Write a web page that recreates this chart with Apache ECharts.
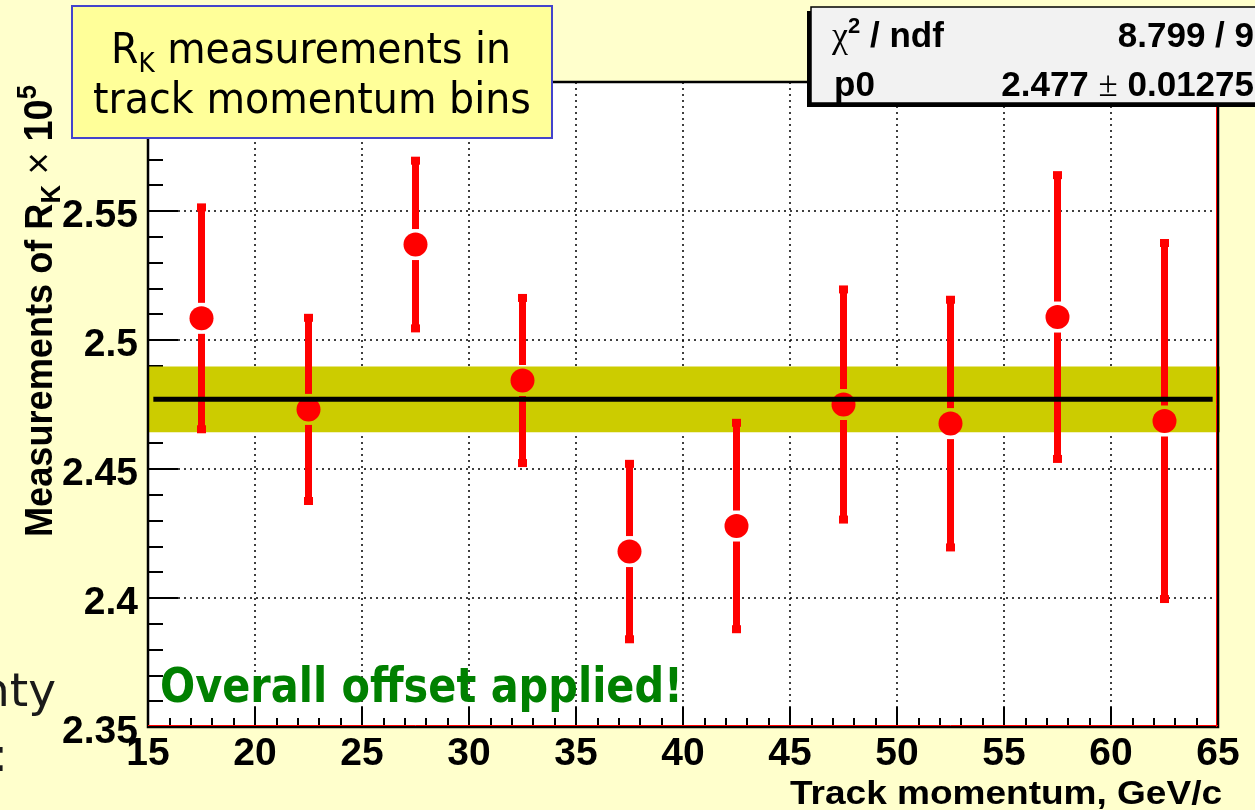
<!DOCTYPE html>
<html>
<head>
<meta charset="utf-8">
<script src="https://cdn.jsdelivr.net/npm/echarts@6/dist/echarts.min.js"></script>
<style>
  html, body { margin: 0; padding: 0; background: #ffffcc; }
  #chart { width: 1255px; height: 810px; }
</style>
</head>
<body>
<div id="chart"></div>
<script>
// R_K measurements per track momentum bin (x = bin centre, GeV/c)
const momentumBins = [17.5, 22.5, 27.5, 32.5, 37.5, 42.5, 47.5, 52.5, 57.5, 62.5];
const rkValues     = [2.5084, 2.4731, 2.5370, 2.4843, 2.4180, 2.4279, 2.4750, 2.4676, 2.5089, 2.4686];
const rkErrors     = [0.0430, 0.0355, 0.0325, 0.0320, 0.0340, 0.0400, 0.0446, 0.0480, 0.0550, 0.0690];

// Constant fit (pol0) result
const fitValue = 2.477;
const fitError = 0.01275;
const fitRange = [15.25, 64.75];
const chi2 = '8.799';
const ndf = '9';

// Axis ranges / ticks
const xRange = [15, 65];
const xStep = 5;
const yRange = [2.35, 2.6];
const yStep = 0.05;

const GRID = { left: 148, top: 82, width: 1070, height: 645 };

const chart = echarts.init(document.getElementById('chart'), null, { renderer: 'canvas' });

// ---- text helpers: lay out mixed-size text pieces on a common baseline ----
const measureCtx = document.createElement('canvas').getContext('2d');
function fontOf(p) { return (p.weight || 'normal') + ' ' + p.size + 'px ' + p.family; }
function textRun(pieces, opt) {
  const z = opt.z || 100;
  const children = [];
  let cx = 0;
  pieces.forEach(function (p) {
    measureCtx.font = fontOf(p);
    measureCtx.textBaseline = 'middle';
    const w = measureCtx.measureText(p.text).width;
    const below = measureCtx.measureText('H').actualBoundingBoxDescent;
    children.push({
      type: 'text', x: cx, y: (p.dy || 0) - below, silent: true, z: z,
      style: {
        text: p.text, fontSize: p.size, fontWeight: p.weight || 'normal',
        fontFamily: p.family, fill: p.color || opt.color || '#000',
        align: 'left', verticalAlign: 'middle'
      }
    });
    cx += w + (p.after || 0);
  });
  const shift = opt.align === 'right' ? -cx : (opt.align === 'center' ? -cx / 2 : 0);
  children.forEach(function (c) { c.x += shift; });
  return {
    type: 'group', x: opt.x, y: opt.y, rotation: opt.rotation || 0,
    scaleX: opt.width ? opt.width / cx : 1, z: z, children: children
  };
}

const BOLD_SANS = "'Liberation Sans', Arial, sans-serif";
const TITLE_SANS = "'DejaVu Sans', Verdana, sans-serif";

const graphics = [
  // plot frame
  { type: 'rect', z: 20, silent: true,
    shape: { x: GRID.left, y: GRID.top, width: GRID.width, height: GRID.height },
    style: { fill: 'none', stroke: '#000', lineWidth: 2.5 } },
  { type: 'line', z: 21, silent: true,
    shape: { x1: GRID.left, y1: GRID.top + GRID.height - 1.5, x2: GRID.left + GRID.width, y2: GRID.top + GRID.height - 1.5 },
    style: { stroke: '#ff0000', lineWidth: 1 } },
  { type: 'line', z: 21, silent: true,
    shape: { x1: GRID.left + GRID.width - 1.5, y1: GRID.top, x2: GRID.left + GRID.width - 1.5, y2: GRID.top + GRID.height },
    style: { stroke: '#ff0000', lineWidth: 1 } },

  // title box
  { type: 'rect', z: 90, silent: true,
    shape: { x: 72, y: 6, width: 480, height: 132 },
    style: { fill: '#ffff99', stroke: '#4444cc', lineWidth: 2 } },
  textRun([
    { text: 'R', size: 43, family: TITLE_SANS },
    { text: 'K', size: 27, family: TITLE_SANS, dy: 9 },
    { text: ' measurements in', size: 43, family: TITLE_SANS }
  ], { x: 111, y: 63, width: 400, z: 95 }),
  textRun([
    { text: 'track momentum bins', size: 43, family: TITLE_SANS }
  ], { x: 93, y: 113, width: 438, z: 95 }),

  // statistics box (shadow + box)
  { type: 'rect', z: 90, silent: true,
    shape: { x: 807, y: 11, width: 470, height: 96 },
    style: { fill: '#000' } },
  { type: 'rect', z: 91, silent: true,
    shape: { x: 811, y: 7, width: 470, height: 96 },
    style: { fill: '#f2f2f2', stroke: '#000', lineWidth: 1.5 } },
  textRun([
    { text: '\u03c7', size: 36, family: "'Liberation Serif', serif" },
    { text: '2', size: 22, weight: 'bold', family: BOLD_SANS, dy: -14 },
    { text: ' / ndf', size: 35, weight: 'bold', family: BOLD_SANS }
  ], { x: 832, y: 47, z: 95 }),
  textRun([
    { text: chi2 + ' / ' + ndf, size: 35, weight: 'bold', family: BOLD_SANS }
  ], { x: 1254, y: 47, align: 'right', z: 95 }),
  textRun([
    { text: 'p0', size: 35, weight: 'bold', family: BOLD_SANS }
  ], { x: 834, y: 96, z: 95 }),
  textRun([
    { text: fitValue.toFixed(3) + ' ', size: 35, weight: 'bold', family: BOLD_SANS },
    { text: '\u00b1', size: 35, family: "'Liberation Serif', serif" },
    { text: ' ' + fitError, size: 35, weight: 'bold', family: BOLD_SANS }
  ], { x: 1254, y: 96, align: 'right', z: 95 }),

  // y axis title (rotated)
  textRun([
    { text: 'Measurements of R', size: 38, weight: 'bold', family: BOLD_SANS },
    { text: 'K', size: 27, weight: 'bold', family: BOLD_SANS, dy: 8 },
    { text: ' \u00d7 ', size: 40, family: BOLD_SANS },
    { text: '10', size: 40, weight: 'bold', family: BOLD_SANS },
    { text: '5', size: 27, weight: 'bold', family: BOLD_SANS, dy: -16 }
  ], { x: 52, y: 537, rotation: Math.PI / 2, width: 452, z: 60 }),

  // x axis title
  textRun([
    { text: 'Track momentum, GeV/c', size: 33, weight: 'bold', family: BOLD_SANS }
  ], { x: 1222, y: 804, align: 'right', width: 432, z: 60 }),

  // annotation inside the plot
  textRun([
    { text: 'Overall offset applied!', size: 48, weight: 'bold', family: TITLE_SANS, color: '#008000' }
  ], { x: 160, y: 702, width: 523, z: 60 }),

  // slide text running in from the left edge
  textRun([
    { text: 'uncertainty', size: 47, family: TITLE_SANS, color: '#1a1a1a' }
  ], { x: 56, y: 706, align: 'right', z: 60 }),
  textRun([
    { text: 'statement:', size: 47, family: TITLE_SANS, color: '#1a1a1a' }
  ], { x: 8, y: 771, align: 'right', z: 60 })
];

const labelStyle = { color: '#000', fontFamily: BOLD_SANS, fontWeight: 'bold', fontSize: 39 };
const dotted = { color: '#000', width: 1.5, type: [2, 4] };

const option = {
  backgroundColor: '#ffffcc',
  animation: false,
  grid: { left: GRID.left, top: GRID.top, width: GRID.width, height: GRID.height,
          backgroundColor: '#ffffff', show: true, borderWidth: 0 },
  xAxis: {
    type: 'value', min: xRange[0], max: xRange[1], interval: xStep,
    axisLine: { show: true, lineStyle: { color: '#000', width: 2 } },
    axisTick: { show: true, inside: true, length: 20, lineStyle: { color: '#000', width: 2 } },
    minorTick: { show: true, splitNumber: 5, length: 9, lineStyle: { color: '#000', width: 2 } },
    splitLine: { show: true, lineStyle: dotted },
    axisLabel: Object.assign({ margin: 8, showMinLabel: true, showMaxLabel: true }, labelStyle)
  },
  yAxis: {
    type: 'value', min: yRange[0], max: yRange[1], interval: yStep,
    axisLine: { show: true, lineStyle: { color: '#000', width: 2 } },
    axisTick: { show: true, inside: true, length: 30, lineStyle: { color: '#000', width: 2 } },
    minorTick: { show: true, splitNumber: 5, length: 15, lineStyle: { color: '#000', width: 2 } },
    splitLine: { show: true, lineStyle: dotted },
    axisLabel: Object.assign({
      margin: 10, verticalAlign: 'top', lineHeight: 10, showMinLabel: true, showMaxLabel: true,
      formatter: function (v) { return v > yRange[1] - 1e-6 ? '' : String(+v.toFixed(2)); }
    }, labelStyle)
  },
  graphic: graphics,
  series: [
    { // fit uncertainty band
      type: 'custom', z: 2, silent: true,
      data: [[xRange[0], fitValue, fitError, xRange[1]]],
      encode: { x: [0, 3], y: 1 },
      renderItem: function (params, api) {
        const p1 = api.coord([api.value(0), api.value(1) + api.value(2)]);
        const p2 = api.coord([api.value(3), api.value(1) - api.value(2)]);
        return { type: 'rect', shape: { x: p1[0], y: p1[1], width: p2[0] - p1[0] + 2, height: p2[1] - p1[1] },
                 style: { fill: '#cccc00' } };
      }
    },
    { // error bars with end caps, leaving a gap around the marker
      type: 'custom', z: 3, silent: true,
      data: momentumBins.map(function (x, i) { return [x, rkValues[i], rkErrors[i]]; }),
      encode: { x: 0, y: 1 },
      renderItem: function (params, api) {
        const x = api.value(0), v = api.value(1), e = api.value(2);
        const c = api.coord([x, v]);
        const top = api.coord([x, v + e]);
        const bot = api.coord([x, v - e]);
        const gap = 15.5, w = 7, capW = 9, capH = 8;
        const style = { fill: '#ff0000' };
        return { type: 'group', children: [
          { type: 'rect', shape: { x: c[0] - w / 2, y: top[1], width: w, height: c[1] - gap - top[1] }, style: style },
          { type: 'rect', shape: { x: c[0] - w / 2, y: c[1] + gap, width: w, height: bot[1] - c[1] - gap }, style: style },
          { type: 'rect', shape: { x: c[0] - capW / 2, y: top[1] - capH / 2, width: capW, height: capH }, style: style },
          { type: 'rect', shape: { x: c[0] - capW / 2, y: bot[1] - capH / 2, width: capW, height: capH }, style: style }
        ] };
      }
    },
    { // measurements
      type: 'scatter', z: 4, silent: true,
      symbol: 'circle', symbolSize: 24,
      itemStyle: { color: '#ff0000', opacity: 1 },
      data: momentumBins.map(function (x, i) { return [x, rkValues[i]]; })
    },
    { // constant fit
      type: 'line', z: 6, silent: true, symbol: 'none',
      lineStyle: { color: '#000', width: 5 },
      data: [[fitRange[0], fitValue], [fitRange[1], fitValue]]
    }
  ]
};

chart.setOption(option);
</script>
</body>
</html>
